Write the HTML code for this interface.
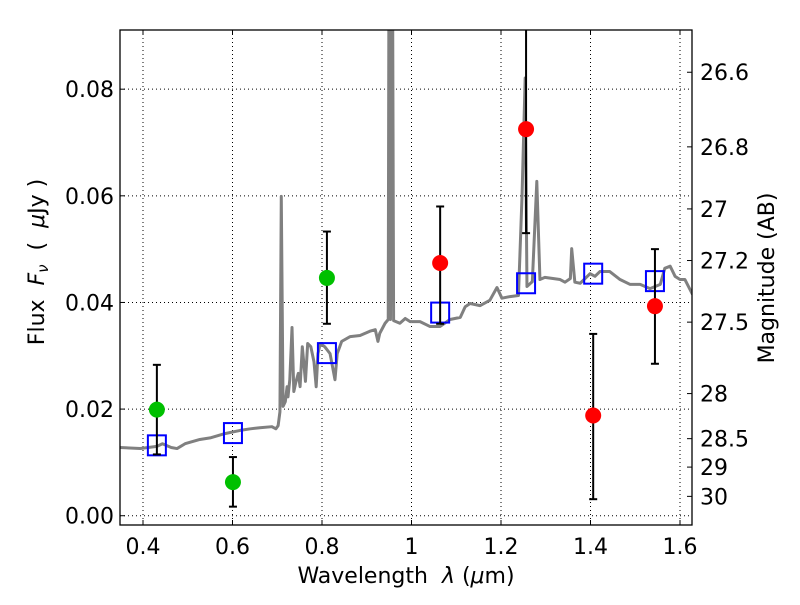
<!DOCTYPE html>
<html><head><meta charset="utf-8"><style>
body{margin:0;background:#fff;}
svg text{font-family:"DejaVu Sans","Liberation Sans",sans-serif;font-size:22px;fill:#000;}
</style></head><body>
<svg id="chart" width="800" height="600" xmlns="http://www.w3.org/2000/svg">
<defs><clipPath id="clip"><rect x="120" y="30" width="572" height="495"/></clipPath></defs>
<g id="grid"></g>
<g id="spec" clip-path="url(#clip)"></g>
<g id="marks" clip-path="url(#clip)"></g>
<rect x="120" y="30" width="572" height="495" fill="none" stroke="#000" stroke-width="1.3"/>
<g id="axes"></g>
<text x="406" y="583" text-anchor="middle">Wavelength&#160;&#160;<tspan font-style="italic">λ</tspan> (<tspan font-style="italic">μ</tspan>m)</text>
<text transform="translate(44,262) rotate(-90)" text-anchor="middle">Flux&#160;&#160;<tspan font-style="italic">F<tspan font-size="15" dy="4">ν</tspan></tspan><tspan dy="-4">&#160;&#160;(&#160;&#160;</tspan><tspan font-style="italic">μ</tspan>Jy )</text>
<text transform="translate(774,278) rotate(-90)" text-anchor="middle">Magnitude (AB)</text>
</svg>
<script>
const xTicks=[0.4,0.6,0.8,1.0,1.2,1.4,1.6];
const xTickLabels=["0.4","0.6","0.8","1","1.2","1.4","1.6"];
const yTicks=[0,0.02,0.04,0.06,0.08];
const yTickLabels=["0.00","0.02","0.04","0.06","0.08"];
const magTicks=[26.6,26.8,27,27.2,27.5,28,28.5,29,30];
const magTickLabels=["26.6","26.8","27","27.2","27.5","28","28.5","29","30"];
const specWave=[0.348,0.394,0.431,0.4435,0.463,0.476,0.494,0.527,0.550,0.583,0.617,0.640,0.661,0.688,0.697,0.702,0.706,0.709,0.713,0.718,0.722,0.724,0.728,0.733,0.737,0.742,0.747,0.751,0.756,0.763,0.768,0.775,0.782,0.787,0.791,0.796,0.806,0.818,0.829,0.834,0.844,0.863,0.885,0.907,0.919,0.925,0.929,0.941,0.948,0.950,0.953,0.957,0.960,0.974,0.986,0.997,1.019,1.041,1.064,1.086,1.109,1.120,1.131,1.153,1.175,1.191,1.202,1.220,1.239,1.247,1.254,1.258,1.270,1.280,1.287,1.298,1.332,1.343,1.355,1.358,1.365,1.377,1.399,1.410,1.421,1.443,1.466,1.488,1.511,1.533,1.556,1.566,1.578,1.589,1.600,1.611,1.628];
const specFlux=[0.0128,0.0126,0.0130,0.0135,0.0128,0.0126,0.0135,0.0143,0.0146,0.0154,0.0160,0.0163,0.0165,0.0167,0.0163,0.0169,0.0195,0.0599,0.0205,0.0214,0.0242,0.0223,0.0255,0.0353,0.0233,0.0252,0.0267,0.0242,0.0317,0.0252,0.0323,0.0317,0.0289,0.0242,0.0304,0.0323,0.0317,0.0304,0.0255,0.0304,0.0327,0.0336,0.0338,0.0346,0.0349,0.0327,0.0342,0.0361,0.0368,0.12,0.0368,0.12,0.0366,0.0361,0.0370,0.0364,0.0364,0.0355,0.0355,0.0368,0.0372,0.0392,0.0398,0.0394,0.0404,0.0428,0.0408,0.0411,0.0413,0.0600,0.0821,0.0430,0.0439,0.0627,0.0443,0.0447,0.0443,0.0438,0.0445,0.0501,0.0438,0.0436,0.0454,0.0449,0.0458,0.0458,0.0443,0.0434,0.0434,0.0426,0.0434,0.0464,0.0468,0.0449,0.0443,0.0443,0.0415];
const greenWave=[0.431,0.601,0.811];
const greenFlux=[0.0199,0.0063,0.0446];
const greenHi=[0.0283,0.0110,0.0533];
const greenLo=[0.0115,0.0017,0.0360];
const redWave=[1.064,1.256,1.406,1.544];
const redFlux=[0.0474,0.0725,0.0188,0.0393];
const redHi=[0.0580,0.0960,0.0341,0.0500];
const redLo=[0.0360,0.0530,0.0031,0.0285];
const modelWave=[0.431,0.601,0.811,1.064,1.256,1.406,1.544];
const modelFlux=[0.0132,0.0155,0.0305,0.0381,0.0436,0.0454,0.0440];

const X0=120,X1=692,Y0=525,Y1=30,xmin=0.3486,xmax=1.6268,ymin=-0.00174,ymax=0.0911;
const sx=v=>X0+(v-xmin)/(xmax-xmin)*(X1-X0);
const sy=v=>Y0-(v-ymin)/(ymax-ymin)*(Y0-Y1);
const magToFlux=m=>Math.pow(10,(23.9-m)/2.5);
const NS="http://www.w3.org/2000/svg";
function mk(tag,attrs,parent){const e=document.createElementNS(NS,tag);for(const k in attrs)e.setAttribute(k,attrs[k]);parent.appendChild(e);return e;}
const grid=document.getElementById('grid'),axes=document.getElementById('axes'),spec=document.getElementById('spec'),marks=document.getElementById('marks');

xTicks.forEach((t,i)=>{const x=sx(t);
 const g=mk('line',{x1:x,x2:x,y1:Y1,y2:Y0,stroke:'#000','stroke-width':1,'stroke-dasharray':'1,3'},grid);
 
 
 const a=mk('line',{x1:x,x2:x,y1:Y0,y2:Y0-5,stroke:'#000'},axes);
 
 
 const b=mk('line',{x1:x,x2:x,y1:Y1,y2:Y1+5,stroke:'#000'},axes);
 
 
 const tx=mk('text',{x:x,y:Y0+29,'text-anchor':'middle'},axes);tx.textContent=xTickLabels[i];
 
 
});
yTicks.forEach((t,i)=>{const y=sy(t);
 const g=mk('line',{x1:X0,x2:X1,y1:y,y2:y,stroke:'#000','stroke-width':1,'stroke-dasharray':'1,3'},grid);
 
 
 const a=mk('line',{x1:X0,x2:X0+5,y1:y,y2:y,stroke:'#000'},axes);
 
 
 const tx=mk('text',{x:X0-6,y:y+8,'text-anchor':'end'},axes);tx.textContent=yTickLabels[i];
 
 
});
magTicks.forEach((m,i)=>{const y=sy(magToFlux(m));
 const a=mk('line',{x1:X1,x2:X1-5,y1:y,y2:y,stroke:'#000'},axes);
 
 
 const tx=mk('text',{x:X1+8,y:y+8,'text-anchor':'start'},axes);tx.textContent=magTickLabels[i];
 
 
});
const sp=mk('polyline',{points:specWave.map((w,i)=>sx(w)+','+sy(specFlux[i])).join(' '),fill:'none',stroke:'#808080','stroke-width':3,'stroke-linejoin':'round'},spec);



function errPoint(w,f,hi,lo,color,name){
 const x=sx(w);
 const e=mk('line',{x1:x,x2:x,y1:sy(hi),y2:sy(lo),stroke:'#000','stroke-width':2},marks);
 
 
 [hi,lo].forEach(v=>{const c=mk('line',{x1:x-4,x2:x+4,y1:sy(v),y2:sy(v),stroke:'#000','stroke-width':2},marks);
  
  });
 const p=mk('circle',{cx:x,cy:sy(f),r:8,fill:color},marks);
 
 
}
modelWave.forEach((w,i)=>{const x=sx(w),y=sy(modelFlux[i]);
 const r=mk('rect',{x:x-9,y:y-10,width:18,height:20,fill:'none',stroke:'#0000ff','stroke-width':2},marks);
 
 
});
greenWave.forEach((w,i)=>errPoint(w,greenFlux[i],greenHi[i],greenLo[i],'#00c000','green'));
redWave.forEach((w,i)=>errPoint(w,redFlux[i],redHi[i],redLo[i],'#ff0000','red'));
</script>
</body></html>
